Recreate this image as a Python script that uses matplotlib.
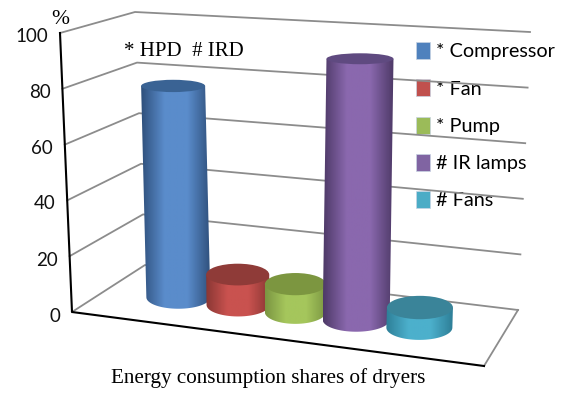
import matplotlib
matplotlib.use('Agg')
import matplotlib.pyplot as plt
from matplotlib.colors import LinearSegmentedColormap
from matplotlib.patches import Ellipse, Patch, PathPatch
from matplotlib.path import Path
import numpy as np

names = ['* Compressor', '* Fan', '* Pump', '# IR lamps', '# Fans']
values = [78, 11, 10, 92, 7]
ticks = [0, 20, 40, 60, 80, 100]
side_cols = ['#5A8CCB', '#C9524F', '#A5C65C', '#8A68AE', '#4CB0CC']
edge_cols = ['#2F507C', '#8A3734', '#7B9642', '#4E3A68', '#2E7F98']
top_cols = ['#3A6394', '#8F3B38', '#7C9640', '#5F4A80', '#3A8499']
legend_cols = ['#4F81BD', '#C0504D', '#9BBB59', '#8064A2', '#4BACC6']
places = [0.178, 0.330, 0.476, 0.631, 0.792]
radii = [32, 31.5, 30.5, 33.5, 33]


# corners of the 3d box in pixels (front/back, left/right)
FL0, FR0, BL0, BR0 = (72, 312), (484, 366), (145, 265), (518, 310)
FL1, FR1, BL1, BR1 = (60, 33), (498, 56), (135, 12), (530, 32)


def proj(u, v, val):
    # u along the front edge, v into the depth, val on the percent scale
    w = val / 100
    res = []
    for k in range(2):
        lo = (FL0[k] * (1 - v) + BL0[k] * v) * (1 - u) + (FR0[k] * (1 - v) + BR0[k] * v) * u
        hi = (FL1[k] * (1 - v) + BL1[k] * v) * (1 - u) + (FR1[k] * (1 - v) + BR1[k] * v) * u
        res.append(lo * (1 - w) + hi * w)
    return res


def lerp(a, b, t):
    return (a[0] + (b[0] - a[0]) * t, a[1] + (b[1] - a[1]) * t)


def squash(y):
    # ellipses get rounder further down the picture
    return 4 + 0.025 * y


def cylinder(ax, i, u, v, val, rx=32):
    bx, by = proj(u, v, 0)
    tx, ty = proj(u, v, val)
    th = np.linspace(np.pi, 0, 40)
    arc = np.column_stack([bx + rx * np.cos(th), by + squash(by) * np.sin(th)])
    pts = np.vstack([[tx - rx, ty], arc, [tx + rx, ty], [tx - rx, ty]])
    body = PathPatch(Path(pts), fc='none', ec='none', zorder=3 + i)
    ax.add_patch(body)
    cmap = LinearSegmentedColormap.from_list('c', [edge_cols[i], side_cols[i], side_cols[i], edge_cols[i]])
    grad = np.linspace(0, 1, 100).reshape(1, -1)
    im = ax.imshow(grad, cmap=cmap, aspect='auto', zorder=3 + i,
                   extent=[min(bx, tx) - rx, max(bx, tx) + rx, by + 20, ty])
    im.set_clip_path(body)
    ax.add_patch(Ellipse((tx, ty), 2 * rx, 2 * squash(ty), fc=top_cols[i], ec='none', zorder=3 + i))


fig = plt.figure(figsize=(5.62, 3.95), dpi=100)
ax = fig.add_axes([0, 0, 1, 1])

# gridlines on the two back walls
for t in ticks:
    a = lerp(FL0, FL1, t / 100)
    b = lerp(BL0, BL1, t / 100)
    c = lerp(BR0, BR1, t / 100)
    ax.plot([a[0], b[0], c[0]], [a[1], b[1], c[1]], color='#8c8c8c', lw=1.3, zorder=2)
    ax.text(a[0] - 12, a[1] + 4 - t * 0.01, str(t), ha='right', va='center', fontsize=13.5, family='Lato',
            color='#111111')
ax.plot([BR0[0], FR0[0]], [BR0[1], FR0[1]], color='#8c8c8c', lw=1.3, zorder=2)
ax.plot([FL1[0], FL0[0], FR0[0]], [FL1[1], FL0[1], FR0[1]], color='black', lw=1.5, zorder=2.5)

for i in range(len(values)):
    cylinder(ax, i, places[i], 0.5, values[i], radii[i])

ax.text(60, 19, '%', ha='center', va='center', fontsize=15.5, family='Liberation Serif')
ax.text(124, 51, '* HPD  # IRD', ha='left', va='center', fontsize=15, family='Liberation Serif')
ax.text(268, 378, 'Energy consumption shares of dryers', ha='center', va='center', fontsize=15.25,
        family='Liberation Serif')

handles = [Patch(fc=c, ec='#c8d4e4', lw=0.5) for c in legend_cols]
leg = ax.legend(handles, names, loc='upper left', bbox_to_anchor=(416 / 562, 1 - 42 / 395), frameon=False,
                prop={'family': 'Lato', 'size': 14.3}, handlelength=0.7, handleheight=0.95,
                handletextpad=0.3, labelspacing=0.95, borderpad=0, borderaxespad=0)
leg.set_zorder(1)

ax.set_xlim(0, 562)
ax.set_ylim(395, 0)
ax.axis('off')
fig.savefig('out.png', dpi=100)
